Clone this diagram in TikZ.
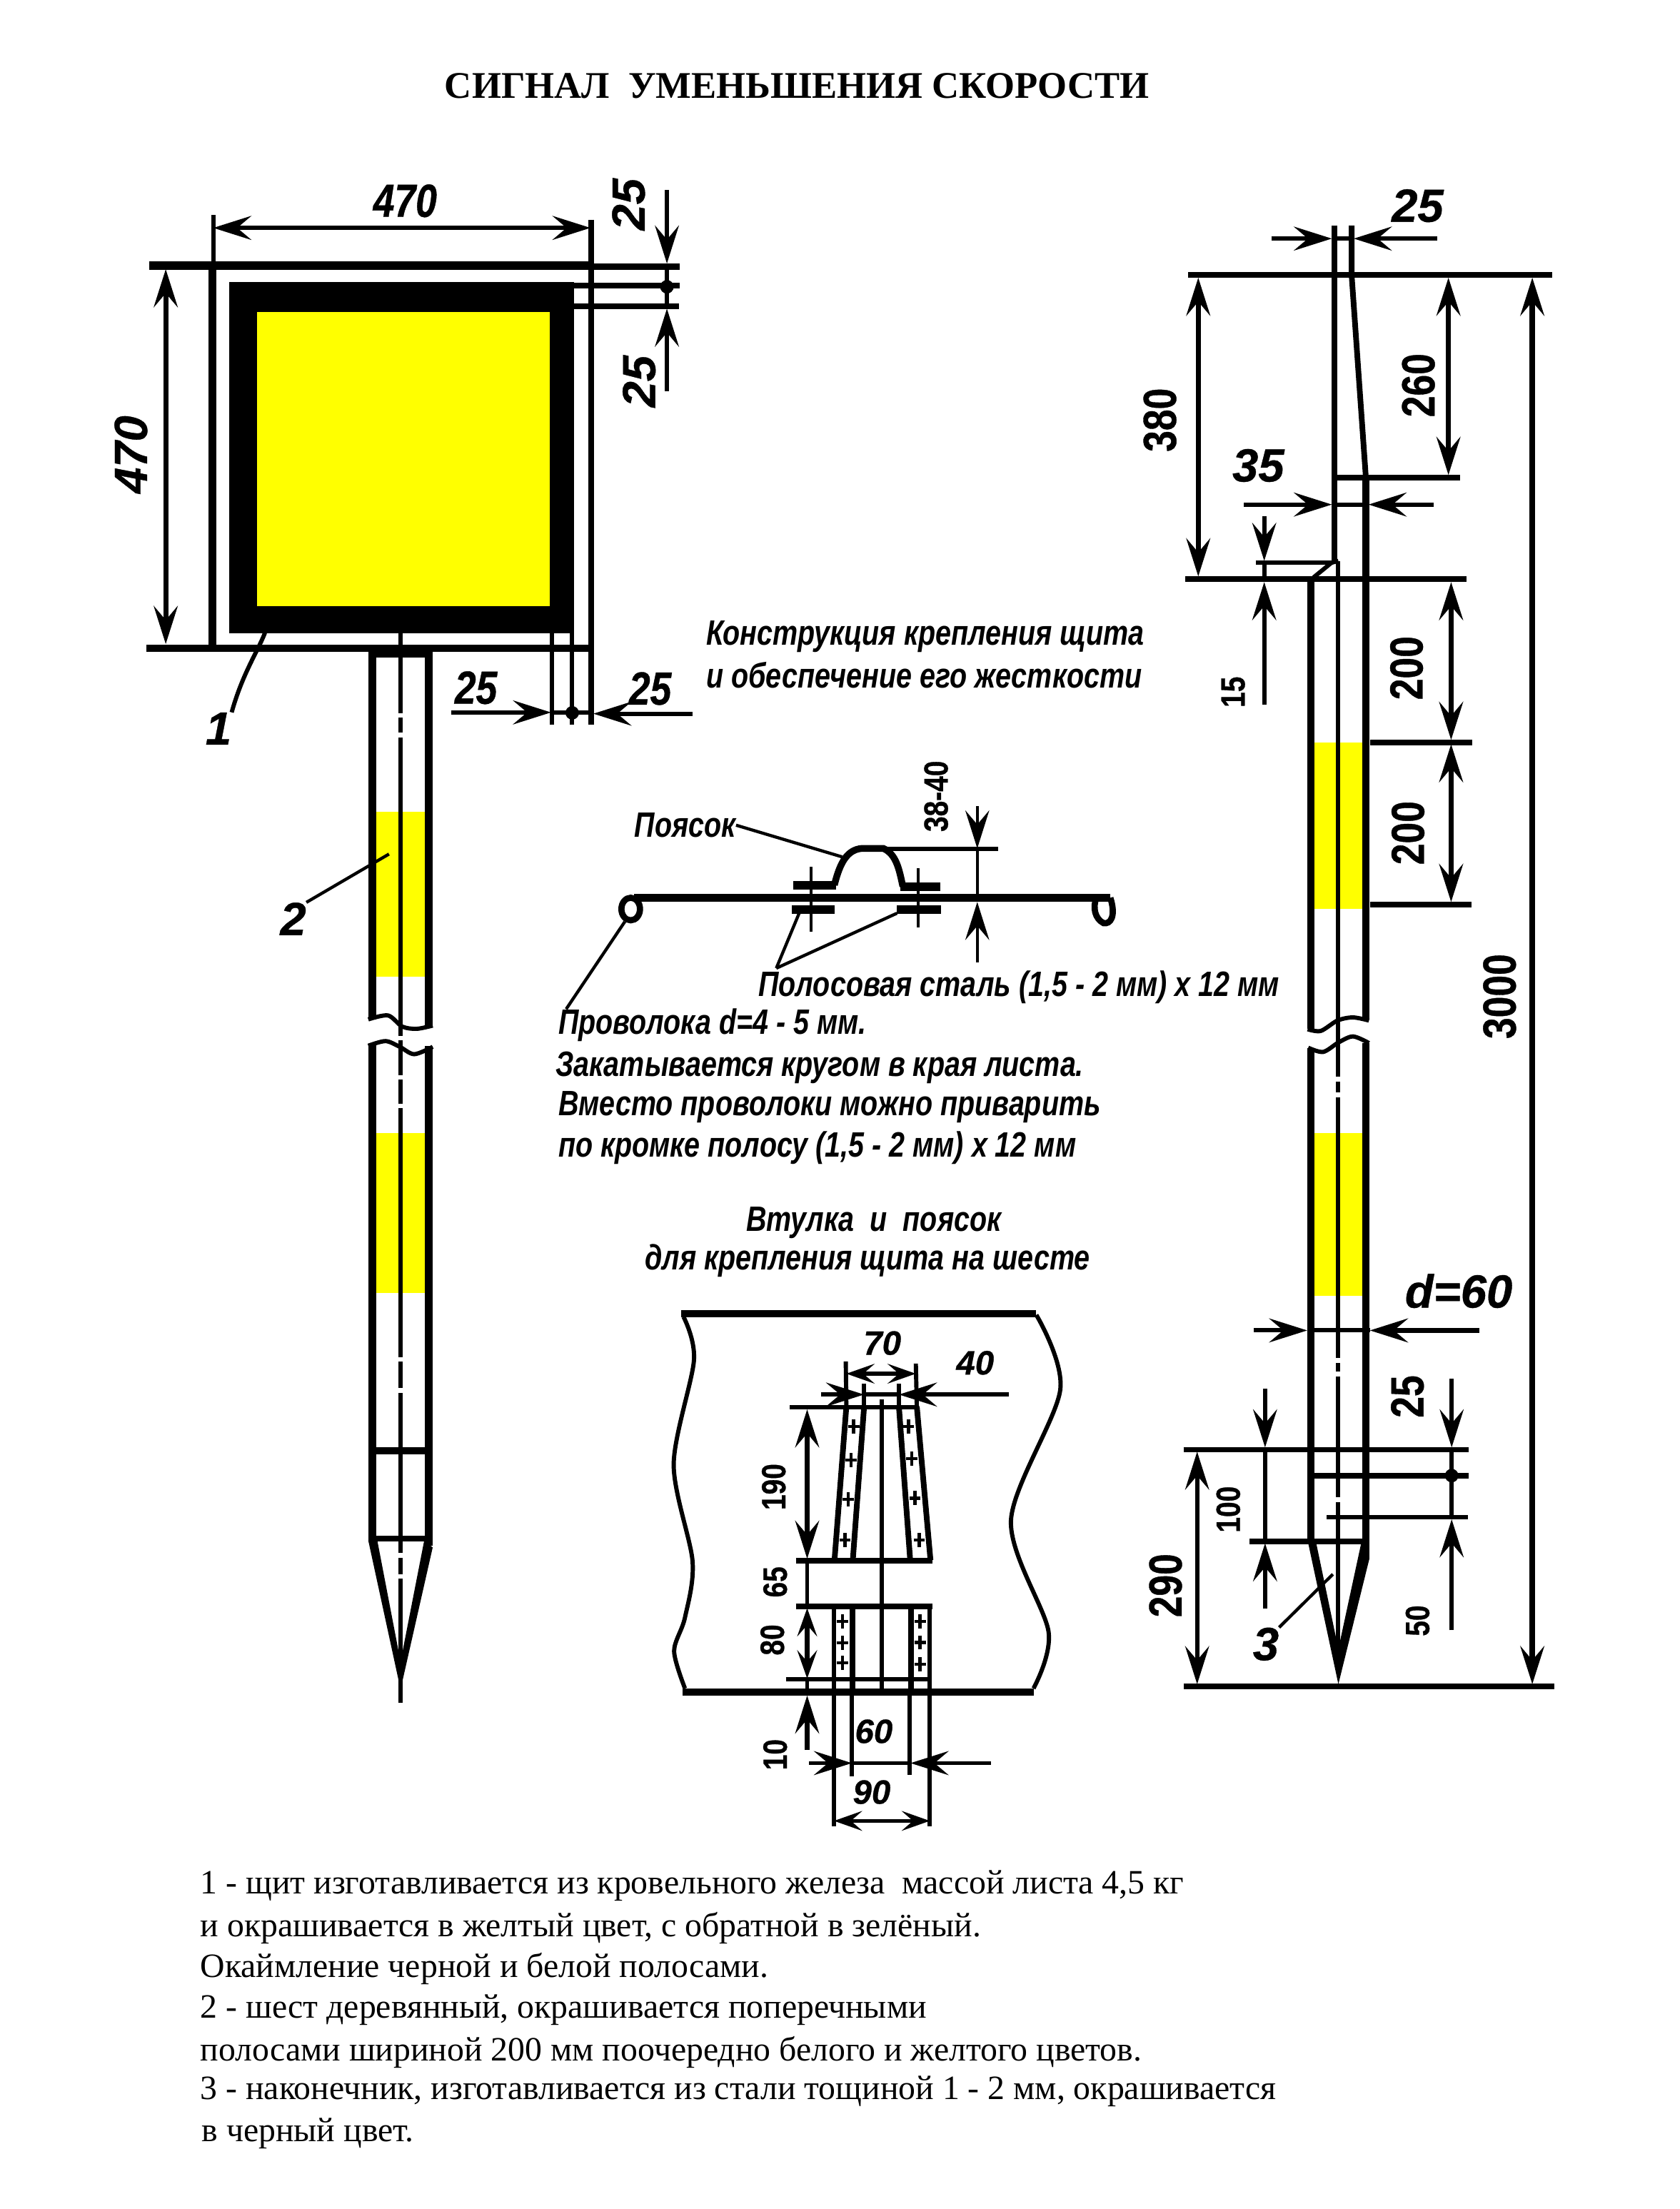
\documentclass[tikz,border=0pt]{standalone}
\usepackage{fontspec}
\setmainfont{Liberation Serif}
\newfontfamily\dimfont[FakeStretch=0.8]{Liberation Sans}
\newfontfamily\numfont[FakeStretch=0.82,FakeBold=0.6]{Liberation Sans}
\newfontfamily\widefont[FakeBold=0.6]{Liberation Sans}
\usepackage{tikz}
\usetikzlibrary{arrows.meta}
\definecolor{SignYellow}{RGB}{255,255,0}
\tikzstyle{DimLine} = [line width=3pt]
\tikzstyle{Edge} = [line width=4pt]
\tikzstyle{Wall} = [line width=5.2pt]
\tikzstyle{Leader} = [line width=2.2pt]
\tikzstyle{Arrow} = [DimLine, -{Stealth[length=27pt,width=17pt,inset=10pt]}]
\tikzstyle{TwoWay} = [DimLine, {Stealth[length=27pt,width=17pt,inset=10pt]}-{Stealth[length=27pt,width=17pt,inset=10pt]}]
\tikzstyle{ShortWay} = [line width=2.6pt, {Stealth[length=20pt,width=14pt,inset=8pt]}-{Stealth[length=20pt,width=14pt,inset=8pt]}]
\tikzstyle{Num} = [inner sep=0pt, font=\widefont\bfseries\itshape\fontsize{33}{35}\selectfont]
\tikzstyle{NumUp} = [Num, rotate=90, font=\numfont\bfseries\fontsize{33}{35}\selectfont]
\tikzstyle{NumSlim} = [Num, font=\numfont\bfseries\itshape\fontsize{33}{35}\selectfont]
\tikzstyle{NumMid} = [inner sep=0pt, font=\widefont\bfseries\itshape\fontsize{24}{26}\selectfont]
\tikzstyle{NumSmallUp} = [inner sep=0pt, rotate=90, font=\numfont\bfseries\fontsize{24}{26}\selectfont]
\tikzstyle{Note} = [inner sep=0pt, anchor=west, font=\dimfont\bfseries\itshape\fontsize{25}{27}\selectfont]
\tikzstyle{Remark} = [inner sep=0pt, anchor=west, font=\fontsize{24.2}{26}\selectfont]
\begin{document}
\begin{tikzpicture}[x=1pt,y=-1pt]
    \useasboundingbox (0,0) rectangle (1192,1567.4);

    \node [inner sep=0pt, font=\bfseries\fontsize{26.7}{29}\selectfont] (title) at (565.5,61) {СИГНАЛ\ \ УМЕНЬШЕНИЯ СКОРОСТИ};

    % shield
    \fill (162.7,200.3) rectangle (407.5,449.2);
    \fill[SignYellow] (182.4,221.4) rectangle (390,430);
    \draw[line width=5.2pt] (150.7,188) -- (150.7,460);
    \draw[line width=6pt] (106,188.3) -- (420.6,188.3);
    \draw[line width=4.5pt] (420.6,189.2) -- (482.5,189.2);
    \draw[line width=5pt] (104,459.8) -- (420.6,459.8);
    \draw[Edge] (419.5,155.8) -- (419.5,514);
    \draw[DimLine] (151.3,152.5) -- (151.3,188);
    \draw[Edge] (407.5,202.5) -- (482.5,202.5);
    \draw[Edge] (407.5,217.5) -- (482,217.5);
    \draw[DimLine] (391.5,449) -- (391.5,514);
    \draw[DimLine] (406,449) -- (406,514);
    \draw[TwoWay] (151.3,161.7) -- (419,161.7);
    \draw[TwoWay, line width=3.6pt] (117.6,191) -- (117.6,457);
    \draw[Arrow] (473.2,135) -- (473.2,187);
    \draw[Arrow] (473.2,277.5) -- (473.2,219);
    \draw[DimLine] (473.2,187) -- (473.2,219);
    \fill (473.2,203.5) circle (4.8pt);
    \draw[Arrow] (320.3,505.5) -- (391,505.5);
    \draw[Arrow] (491.3,506.4) -- (421,506.4);
    \draw[DimLine] (391,505.8) -- (421,505.8);
    \fill (406,505.8) circle (4.8pt);
    \node [NumSlim] (w470) at (287.4,142.5) {470};
    \node [Num, rotate=90] (h470) at (92.9,322.5) {470};
    \node [Num, rotate=90] (t25a) at (446,145) {25};
    \node [Num, rotate=90] (t25b) at (453.5,270.6) {25};
    \node [NumSlim] (b25a) at (337.7,488) {25};
    \node [NumSlim] (b25b) at (461.3,488.6) {25};
    \node [Num] (n1) at (155,517) {1};
    \draw[line width=3pt] (n1.north east) .. controls (172,478) and (183,462) .. (188,449);

    % left pole
    \fill[SignYellow] (267,576) rectangle (301.5,693);
    \fill[SignYellow] (267,803.8) rectangle (301.5,917.5);
    \draw[line width=6pt] (264.2,463) -- (264.2,723.5);
    \draw[line width=6pt] (304.2,463) -- (304.2,727.5);
    \draw[line width=6pt] (264.2,741) -- (264.2,1093);
    \draw[line width=6pt] (304.2,742) -- (304.2,1097);
    \draw[Edge] (261.3,464.5) -- (307,464.5);
    \draw[DimLine] (284.2,449) -- (284.2,1208);
    \foreach \gap in {506,520,735,763,783,963,985,1102,1117}
        \fill[white] (282,\gap) rectangle (286.4,\gap+3.2);
    \draw[DimLine] plot[smooth] coordinates {(261.3,723.3) (275.3,720.5) (285.4,728.4) (295.6,730) (307,727.7)};
    \draw[DimLine] plot[smooth] coordinates {(261.3,742) (273.6,738.7) (283.7,742.8) (293.9,748) (307,742.8)};
    \draw[Wall] (264,1029.2) -- (304,1029.2);
    \draw[line width=4pt] (264,1091.5) -- (304,1091.5);
    \fill (261.3,1093) -- (267.7,1093) -- (284.2,1179) -- (301,1093) -- (307,1098) -- (284.2,1198.7) -- cycle;
    \node [Num] (n2) at (208,652) {2};
    \draw[Leader] (n2.north east) -- (276,606);

    % fastening section
    \node [Note] (head1) at (501,451.5) {Конструкция крепления щита};
    \node [Note] (head2) at (501,479) {и обеспечение его жесткости};
    \draw[line width=5.6pt] (450,636.8) -- (787.8,636.8);
    \draw[line width=4.4pt] (447.5,645) ellipse (6.6pt and 8pt);
    \draw[line width=4.4pt] (787.8,637) .. controls (792,650) and (788,656) .. (783,655) .. controls (777,652) and (775,644) .. (778,637);
    \draw[line width=6pt] (562.8,628) -- (593,628);
    \draw[line width=6pt] (639,629) -- (667,629);
    \draw[line width=4.8pt] (592,628) .. controls (596,612) and (601,603) .. (611.4,602) -- (626.7,602) .. controls (636,606) and (638,617) .. (640.6,629);
    \draw[line width=6pt] (562,645.6) -- (592,645.6);
    \draw[line width=6pt] (636.4,645.6) -- (667.8,645.6);
    \draw[line width=2pt] (575.3,615) -- (575.3,661);
    \draw[line width=2pt] (651.7,616) -- (651.7,658);
    \draw[DimLine] (611.4,602.3) -- (708,602.3);
    \draw[line width=2pt] (693.4,602) -- (693.4,640);
    \draw[Arrow, line width=2pt] (693.4,572) -- (693.4,602);
    \draw[Arrow, line width=2pt] (693.4,683) -- (693.4,640);
    \node [NumSmallUp] (h38) at (664.2,565) {38-40};
    \node [Note] (belt) at (450,585.5) {Поясок};
    \draw[Leader] (belt.east) -- (597.5,608);
    \node [Note] (steel) at (538,700.5) {Полосовая сталь (1,5 - 2 мм) х 12 мм};
    \draw[Leader] (550.8,687) -- (567,648);
    \draw[Leader] (550.8,687) -- (636.4,648);
    \node [Note] (wire1) at (396,727.5) {Проволока d=4 - 5 мм.};
    \draw[Leader] (401.7,716) -- (443.3,654);
    \node [Note] (wire2) at (394,757.5) {Закатывается кругом в края листа.};
    \node [Note] (wire3) at (396,785.5) {Вместо проволоки можно приварить};
    \node [Note] (wire4) at (396,814.5) {по кромке полосу (1,5 - 2 мм) х 12 мм};
    \node [Note, anchor=center] (bush1) at (620,867.5) {Втулка\ \ и\ \ поясок};
    \node [Note, anchor=center] (bush2) at (615.5,894.5) {для крепления щита на шесте};

    % bush
    \draw[Wall] (483.3,932.3) -- (735.3,932.3);
    \draw[Wall] (484.5,1200.6) -- (733.3,1200.6);
    \draw[DimLine] plot[smooth] coordinates {(485,934.4) (492.4,964.9) (478,1039) (491.4,1108) (486,1147.7) (478.3,1171.5) (486,1198)};
    \draw[DimLine] plot[smooth] coordinates {(735.3,933) (752.3,986) (717.3,1078.8) (744,1158) (733.3,1198)};
    \draw[DimLine] (560.5,998.5) -- (651.2,998.5);
    \draw[Edge] (564.7,1107.4) -- (661.8,1107.4);
    \draw[Edge] (564.7,1139.7) -- (661.8,1139.7);
    \draw[DimLine] (557.5,1191.6) -- (660.2,1191.6);
    \draw[DimLine] (600.1,966) -- (600.5,998);
    \draw[Edge] (600.5,998) -- (592.1,1107);
    \draw[DimLine] (613.1,982) -- (613.1,998);
    \draw[Edge] (613.1,998) -- (605.1,1107);
    \draw[DimLine] (637.8,982) -- (637.8,998);
    \draw[Edge] (637.8,998) -- (645.8,1107);
    \draw[DimLine] (649.8,967.5) -- (650.5,998);
    \draw[Edge] (650.5,998) -- (660.2,1107);
    \draw[DimLine] (625.6,992.7) -- (625.6,1198);
    \draw[DimLine] (591.7,1139.7) -- (591.7,1296);
    \draw[DimLine] (659.8,1139.7) -- (659.8,1296);
    \draw[Edge] (604.7,1139.7) -- (604.7,1198);
    \draw[Edge] (646.2,1139.7) -- (646.2,1198);
    \draw[DimLine] (604.5,1198) -- (604.5,1260.3);
    \draw[DimLine] (645.6,1198) -- (645.6,1259.5);
    \foreach \px/\py in {605.7/1012,603.7/1036,601.7/1064,599.5/1092.8,644.6/1012,646.8/1035,649.2/1063,652.2/1092.8,597.7/1150.3,597.7/1165.7,597.7/1180,652.8/1150.3,652.8/1165.4,652.8/1180.8}
        \draw[line width=2.2pt] (\px-4,\py) -- (\px+4,\py) (\px,\py-5) -- (\px,\py+5);
    \draw[ShortWay] (600.5,974.7) -- (649.8,974.7);
    \draw[Arrow] (582.5,989.5) -- (613.1,989.5);
    \draw[Arrow] (715.7,989.5) -- (637.8,989.5);
    \draw[DimLine] (613.1,989.5) -- (637.8,989.5);
    \draw[TwoWay, line width=3.2pt] (572.7,1000) -- (572.7,1106);
    \draw[DimLine] (572.7,1106) -- (572.7,1140);
    \draw[ShortWay, line width=3.2pt] (572.7,1141) -- (572.7,1191);
    \draw[Arrow, line width=3.2pt] (572.7,1241.7) -- (572.7,1203);
    \draw[DimLine] (572.7,1191) -- (572.7,1203);
    \draw[Arrow] (574,1251) -- (604.5,1251);
    \draw[Arrow] (702.9,1251) -- (646,1251);
    \draw[DimLine] (604.5,1251) -- (646,1251);
    \draw[ShortWay] (591.7,1292) -- (659.8,1292);
    \node [NumMid] (n70) at (626,953) {70};
    \node [NumMid] (n40) at (691.9,967) {40};
    \node [NumMid] (n60) at (620,1228.5) {60};
    \node [NumMid] (n90) at (618.5,1271.6) {90};
    \node [NumSmallUp] (n190) at (549,1055) {190};
    \node [NumSmallUp] (n65) at (550,1122.5) {65};
    \node [NumSmallUp] (n80) at (548,1163.6) {80};
    \node [NumSmallUp] (n10) at (550,1245) {10};

    % right pole
    \fill[SignYellow] (932,526.8) rectangle (966.8,645);
    \fill[SignYellow] (932,804) rectangle (966.8,919.5);
    \draw[Wall] (930,409) -- (930,730);
    \draw[Wall] (969.2,339) -- (969.2,724);
    \draw[Wall] (930,743.5) -- (930,1094);
    \draw[Wall] (969.2,740) -- (969.2,1106);
    \draw[DimLine] (949.4,398) -- (949.4,1180);
    \foreach \gap in {764,775,963.4,973.3,1062.3}
        \fill[white] (947.2,\gap) rectangle (951.6,\gap+3.6);
    \draw[DimLine] plot[smooth] coordinates {(927.8,730.3) (937.1,731.5) (949,724.1) (959.9,721.9) (971.3,724.1)};
    \draw[DimLine] plot[smooth] coordinates {(928.2,743.4) (938.8,746.4) (949.8,739.6) (960,735.4) (971.3,740.1)};
    \fill (928,1094) -- (933.7,1094) -- (949.6,1170) -- (966,1094) -- (971.6,1106) -- (949.6,1195) -- cycle;
    \draw[Edge] (946.7,160) -- (946.7,398);
    \draw[Edge] (959,160) -- (959,195) -- (969,337.3);
    \draw[Edge] (947.6,339) -- (1036,339);
    \draw[DimLine] (932,409.7) -- (944.7,399.3) -- (949.6,398);
    \draw[line width=4pt] (843,195) -- (1101.3,195);
    \draw[line width=4pt] (841,411) -- (1040.7,411);
    \draw[Edge] (972,526.8) -- (1044.5,526.8);
    \draw[Edge] (972,642) -- (1044,642);
    \draw[Edge] (839.7,1028.6) -- (1042,1028.6);
    \draw[Edge] (932.7,1047.1) -- (1042,1047.1);
    \draw[DimLine] (941.2,1076.5) -- (1041.6,1076.5);
    \draw[Edge] (886.6,1093.7) -- (967,1093.7);
    \draw[line width=4pt] (840,1196.7) -- (1102.7,1196.7);
    \draw[DimLine] (891,399.3) -- (944.7,399.3);

    \draw[Arrow] (902,169.3) -- (945,169.3);
    \draw[Arrow] (1019.7,169.3) -- (960.5,169.3);
    \draw[DimLine] (946,169.3) -- (959,169.3);
    \draw[Arrow] (882.7,358) -- (945,358);
    \draw[Arrow] (1017.4,358) -- (971,358);
    \draw[DimLine] (945,358) -- (971,358);
    \draw[Arrow, line width=3.2pt] (897,366.5) -- (897,398);
    \draw[Arrow, line width=3.2pt] (897,500) -- (897,413);
    \draw[DimLine] (897,398) -- (897,413);
    \draw[TwoWay, line width=3.6pt] (850.2,197) -- (850.2,409);
    \draw[TwoWay, line width=3.6pt] (1027.7,197) -- (1027.7,337);
    \draw[TwoWay, line width=3.8pt] (1087.2,197) -- (1087.2,1195);
    \draw[TwoWay, line width=3.8pt] (1029.6,413) -- (1029.6,525);
    \draw[TwoWay, line width=3.8pt] (1029.6,528) -- (1029.6,640);
    \draw[Arrow] (889.5,944) -- (927.5,944);
    \draw[Arrow, line width=3.6pt] (1049.4,944) -- (972,944);
    \draw[DimLine] (927.5,944) -- (972,944);
    \draw[TwoWay] (849.4,1030) -- (849.4,1195);
    \draw[Arrow] (897.6,985.4) -- (897.6,1027);
    \draw[Arrow] (897.6,1141.4) -- (897.6,1095);
    \draw[DimLine] (897.6,1027) -- (897.6,1095);
    \draw[Arrow] (1030,978.3) -- (1030,1027);
    \draw[Arrow] (1030,1156.7) -- (1030,1078);
    \draw[DimLine] (1030,1027) -- (1030,1078);
    \fill (1030,1047) circle (4.8pt);

    \node [Num] (d25) at (1005.8,146) {25};
    \node [Num] (d35) at (892.8,330.3) {35};
    \node [NumUp] (d380) at (823,298) {380};
    \node [NumUp] (d260) at (1006.4,273.4) {260};
    \node [NumUp] (d3000) at (1064,707) {3000};
    \node [NumUp] (d200a) at (998,474) {200};
    \node [NumUp] (d200b) at (999,591) {200};
    \node [NumSmallUp] (d15) at (875,491) {15};
    \node [Num] (d60) at (1035,916) {d=60};
    \node [NumUp] (d25b) at (998.6,990.9) {25};
    \node [NumSmallUp] (d100) at (871.5,1071) {100};
    \node [NumSmallUp] (d50) at (1005.8,1150) {50};
    \node [NumUp] (d290) at (827,1125) {290};
    \node [Num] (n3) at (898.2,1166.6) {3};
    \draw[Leader] (n3.north east) -- (945.7,1117);

    % remarks
    \node [Remark] (rem1) at (142,1338) {1 - щит изготавливается из кровельного железа\ \ массой листа 4,5 кг};
    \node [Remark] (rem2) at (142,1368) {и окрашивается в желтый цвет, с обратной в зелёный.};
    \node [Remark] (rem3) at (142,1397) {Окаймление черной и белой полосами.};
    \node [Remark] (rem4) at (142,1426) {2 - шест деревянный, окрашивается поперечными};
    \node [Remark] (rem5) at (142,1456) {полосами шириной 200 мм поочередно белого и желтого цветов.};
    \node [Remark] (rem6) at (142,1484) {3 - наконечник, изготавливается из стали тощиной 1 - 2 мм, окрашивается};
    \node [Remark] (rem7) at (143,1514) {в черный цвет.};
\end{tikzpicture}
\end{document}
